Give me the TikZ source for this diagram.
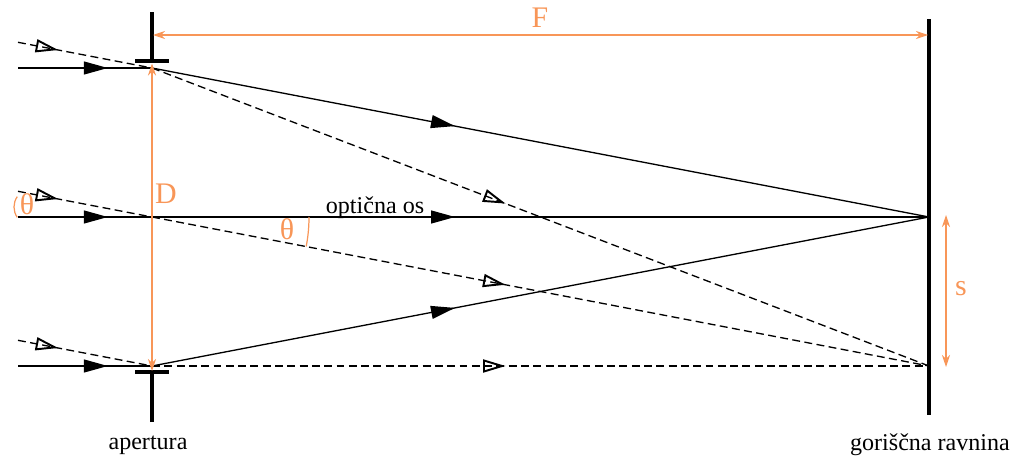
\documentclass[tikz,border=0pt]{standalone}
\usepackage{fontspec}
\setmainfont{Liberation Serif}
\usetikzlibrary{arrows.meta,decorations.markings}
\definecolor{dimcol}{RGB}{248,150,88}

\begin{document}
\begin{tikzpicture}[x=0.2mm, y=-0.2mm,
                ray/.style={line width=0.75pt},
                dray/.style={line width=0.75pt, dash pattern=on 4.5pt off 2.5pt},
                full/.style={postaction={decorate, decoration={markings,
                    mark=at position #1 with {\arrow{Triangle[length=4.8mm, width=2.6mm]}}}}},
                hollow/.style={postaction={decorate, decoration={markings,
                    mark=at position #1 with {\arrow{Triangle[open, length=4.5mm, width=2.6mm, line width=1.1pt]}}}}},
                dim/.style={dimcol, line width=0.6pt,
                    {Stealth[length=2.4mm, width=1.6mm]}-{Stealth[length=2.4mm, width=1.6mm]}},
                plate/.style={line width=1.8pt},
                lbl/.style={font=\fontsize{13.7}{16}\selectfont, inner sep=0, anchor=base},
                dlbl/.style={dimcol, font=\fontsize{17}{20}\selectfont, inner sep=0, anchor=base}]
            \useasboundingbox (0,0) rectangle (1024,474);

            \coordinate (A1) at (152,68);
            \coordinate (A2) at (152,217);
            \coordinate (A3) at (152,366);
            \coordinate (fo) at (929,217);
            \coordinate (fs) at (929,366);
            \coordinate (in1) at (18,68);
            \coordinate (in2) at (18,217);
            \coordinate (in3) at (18,366);
            \coordinate (d1) at (18,42.3);
            \coordinate (d2) at (18,191.3);
            \coordinate (d3) at (18,340.3);

            \draw [dray, hollow=0.3] (d1) -- (A1);
            \draw [dray, hollow=0.3] (d2) -- (A2);
            \draw [dray, hollow=0.3] (d3) -- (A3);
            \draw [dray, hollow=0.455] (A1) -- (fs);
            \draw [dray, hollow=0.455] (A2) -- (fs);
            \draw [dray, hollow=0.455] (A3) -- (fs);

            \draw [ray, full=0.67] (in1) -- (A1);
            \draw [ray, full=0.67] (in2) -- (A2);
            \draw [ray, full=0.67] (in3) -- (A3);
            \draw [ray, full=0.39] (A1) -- (fo);
            \draw [ray, full=0.39] (A2) -- (fo);
            \draw [ray, full=0.39] (A3) -- (fo);

            \coordinate (pT) at (152,12);
            \coordinate (pTb) at (152,61);
            \coordinate (pB) at (152,422);
            \coordinate (pBb) at (152,372);
            \draw [plate] (pT) -- (pTb);
            \draw [plate] (135,61) -- (169,61);
            \draw [plate] (pB) -- (pBb);
            \draw [plate] (135,372) -- (169,372);
            \coordinate (gT) at (929,19);
            \coordinate (gB) at (929,415);
            \draw [plate] (gT) -- (gB);

            \coordinate (Fl) at (153,35);
            \coordinate (Fr) at (928,35);
            \coordinate (Dt) at (152,63.5);
            \coordinate (Db) at (152,371);
            \coordinate (st) at (946,215);
            \coordinate (sb) at (946,367);
            \draw [dim] (Fl) -- (Fr);
            \draw [dim] (Dt) -- (Db);
            \draw [dim] (st) -- (sb);

            \node [dlbl] (F) at (540,27) {F};
            \node [dlbl] (D) at (166,203) {D};
            \node [dlbl] (s) at (961,295) {s};
            \node [dlbl] (th1) at (287,239) {θ};
            \node [dlbl] (th2) at (27,214) {θ};
            \draw [dimcol, line width=0.7pt] (A2) ++(31.4mm,0) arc[start angle=0, end angle=-10.8, radius=31.4mm];
            \draw [dimcol, line width=0.7pt] (32,207) ++(145:3.6mm) arc[start angle=145, end angle=215, radius=3.6mm];

            \node [lbl] (os) at (375,213) {optična os};
            \node [lbl] (ap) at (148,449) {apertura};
            \node [lbl] (gr) at (930,450) {goriščna ravnina};
        \end{tikzpicture}
\end{document}
